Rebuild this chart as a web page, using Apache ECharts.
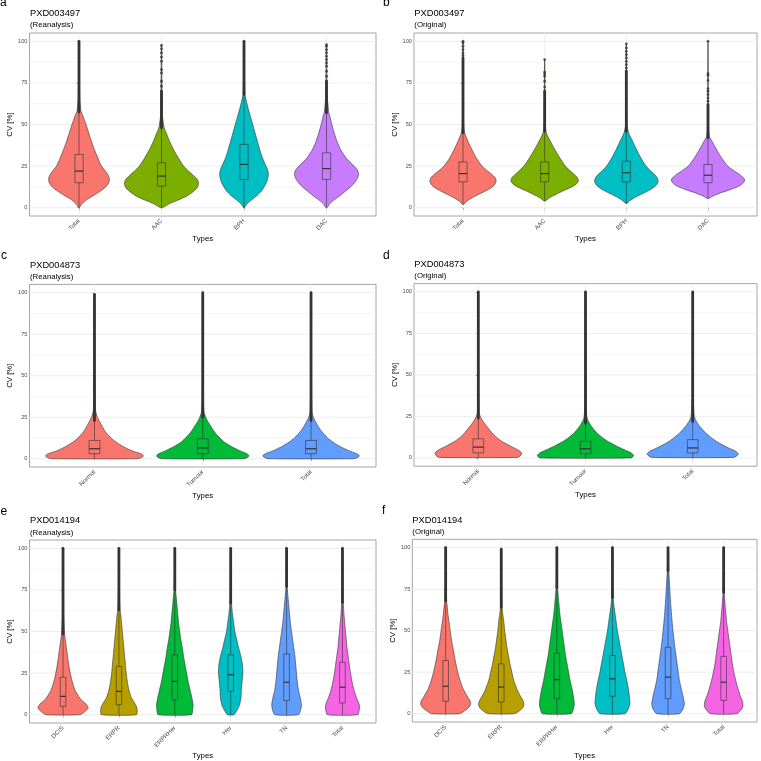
<!DOCTYPE html>
<html><head><meta charset="utf-8">
<script src="https://cdn.jsdelivr.net/npm/echarts@6/dist/echarts.min.js"></script>
<style>html,body{margin:0;padding:0;background:#fff}#c{width:761px;height:761px}</style>
</head><body><div id="c"></div>
<script>
// ---------- DATA ----------
const yTicks = [0, 25, 50, 75, 100];

const typesAB = ['Total', 'AAC', 'BPH', 'DAC'];
const typesCD = ['Normal', 'Tumour', 'Total'];
const typesEF = ['DCIS', 'ERPR', 'ERPRHer', 'Her', 'TN', 'Total'];

const colors4 = ['#F8766D', '#7CAE00', '#00BFC4', '#C77CFF'];
const colors3 = ['#F8766D', '#00BA38', '#619CFF'];
const colors6 = ['#F8766D', '#B79F00', '#00BA38', '#00BFC4', '#619CFF', '#F564E3'];

// violin profiles: [CV, relative half-width]
const violinA = [
  [[0,1],[2.5,10],[5,24],[7.5,45],[10,64],[12.5,80],[15,89],[17.5,91],[20,86],[22.5,77],[25,67],[30,56],[35,46],[40,37],[45,29],[50,21],[55,12],[58,6],[65,2.5],[80,1.2],[100,0.6]],
  [[0,3],[2.5,25],[5,55],[7.5,80],[10,97],[12.5,108],[15,111],[17.5,105],[20,92],[22.5,78],[25,66],[30,50],[35,36],[40,24],[45,14],[48,8],[55,3],[70,1.5],[98,0.6]],
  [[0,1],[2.5,10],[5,25],[7.5,40],[10,52],[12.5,60],[15,67],[17.5,71],[20,73],[22.5,71],[25,66],[30,55],[35,47],[40,40],[45,33],[50,26],[55,19],[60,12],[65,6],[68,3],[80,1.2],[100,0.6]],
  [[0,2],[2.5,10],[5,25],[7.5,42],[10,57],[12.5,72],[15,84],[17.5,92],[20,96],[22.5,93],[25,82],[30,58],[35,42],[40,31],[45,23],[50,16],[55,10],[57,7],[65,3],[75,1.5],[98,0.6]]
];
// box: [lower whisker, Q1, median, Q3, upper whisker]
const boxA = [[0,15,22,32,57.5],[0,13,19,27,48],[0,17,26,38,68],[0.5,17,23.5,33,57]];
const denseA = [[57.5,100],[48,70],[68,100],[57,76]];
const pointsA = [[],[73,76,81,83,88,90.5,93,95.5,97.5],[],[79,82,85,87,89,91,93,95,97,98]];

const violinB = [
  [[2,2],[4,12],[6,28],[8,48],[10,68],[12,86],[14,97],[16,101],[18,98],[20,88],[22.5,72],[25,58],[30,40],[35,27],[40,15],[45,5],[50,2],[70,1],[100,0.5]],
  [[4,2],[6,15],[8,35],[10,55],[12,78],[14,95],[16,103],[18,100],[20,90],[22.5,76],[25,63],[30,46],[35,31],[40,17],[45,5],[50,2],[70,1],[89,0.5]],
  [[2.5,2],[4,10],[6,25],[8,45],[10,65],[12,82],[14,93],[16,97],[18,94],[20,86],[22.5,72],[25,60],[30,44],[35,31],[40,19],[45,7],[50,2],[70,1],[98.5,0.5]],
  [[5.5,2],[7,15],[9,40],[11,70],[13,95],[15,108],[16.5,112],[18,108],[20,96],[22.5,77],[25,60],[30,41],[35,26],[40,12],[43,4],[50,1.5],[70,1],[100,0.5]]
];
const boxB = [[2,15.5,20.5,27.5,45],[4,15.5,20.5,27.5,46],[2.5,15.5,21,28,46],[5.5,15,19.5,26,42]];
const denseB = [[45,90],[46,70],[46,82],[42,62]];
const pointsB = [[91.5,93,95,97,99,100],[72.5,76,79,80.5,81.5,89],[84,86,88,90,92,94,96,98.5],[64,66,68,70,71.5,76.5,79.5,80.5,100]];

const violinC = [
  [[0,130],[1,145],[2,147],[3,140],[5,110],[7.5,85],[10,65],[12.5,50],[15,38],[17.5,29],[20,22],[22.5,15],[25,9],[27.5,5],[30,3],[50,1.5],[99,0.7]],
  [[0,125],[1,137],[2,139],[3,133],[5,110],[7.5,85],[10,65],[12.5,52],[15,40],[17.5,31],[20,23],[22.5,15],[25,9],[28,4],[35,2],[60,1.2],[100,0.7]],
  [[0,130],[1,143],[2,145],[3,138],[5,112],[7.5,86],[10,66],[12.5,50],[15,38],[17.5,28],[20,20],[22.5,13],[25,7],[28,3],[40,1.5],[100,0.7]]
];
const boxC = [[0,3,6,11,23],[0,3,6.5,12,25],[0,3,6,11,23]];
const denseC = [[23,99],[25,100],[23,100]];
const pointsC = [[],[],[]];

const violinD = [
  [[0.3,120],[1.5,130],[3,133],[5,120],[7.5,95],[10,72],[12.5,55],[15,42],[17.5,32],[20,22],[22.5,13],[25,6],[27,3],[40,1.5],[100,0.7]],
  [[0,140],[1.5,148],[3,140],[5,118],[7.5,92],[10,68],[12.5,50],[15,35],[17.5,24],[20,15],[22.5,8],[25,4],[35,2],[100,0.7]],
  [[0.3,125],[1.5,137],[2.5,140],[4,132],[6,110],[8,90],[10,72],[12.5,55],[15,40],[17.5,28],[20,18],[22.5,10],[25,5],[35,2],[100,0.7]]
];
const boxD = [[0.3,3,6.5,11.5,24],[0,2.5,5.5,10,21],[0.3,3,6,11,22]];
const denseD = [[24,100],[21,100],[22,100]];
const pointsD = [[],[],[]];

const violinE = [
  [[0,45],[2,58],[4,66],[6,62],[8,52],[10,44],[12.5,37],[15,31],[20,24],[25,19],[30,15],[35,12],[40,9],[45,6],[48.5,4],[60,1.5],[100,0.6]],
  [[0,46],[3,48],[5,46],[7.5,40],[10,33],[15,26],[20,22],[25,19],[30,17],[35,15],[40,13],[45,11],[50,9],[55,7],[60,5],[63,3],[75,1.2],[100,0.6]],
  [[0,44],[3,47],[6,48],[10,45],[15,40],[20,35],[25,31],[30,27],[35,23],[40,20],[45,16],[50,13],[55,10],[60,8],[65,6],[70,4],[75,2],[85,1],[100,0.6]],
  [[0,9],[2,15],[5,22],[7.5,25],[10,27],[15,28],[20,30],[25,32],[30,31],[35,27],[40,21],[45,16],[50,11],[55,8],[60,5],[67,2],[80,1],[100,0.6]],
  [[0,31],[3,37],[6,39],[10,36],[15,31],[20,28],[25,26],[30,24],[35,22],[40,19],[45,16],[50,13],[55,10],[60,8],[65,6],[70,4],[77,1.5],[90,0.8],[100,0.6]],
  [[0,40],[3,44],[5,45],[7.5,42],[10,37],[15,30],[20,25],[25,21],[30,18],[35,15],[40,12],[45,10],[50,8],[55,6],[60,4],[67.5,2],[80,1],[100,0.6]]
];
const boxE = [[0,5,11,22.5,48.5],[0,6,14,29,63],[0,9,20,36,75],[0,14,24,36,67],[0,8.5,19.5,36.5,77],[0,7,16.5,31.5,67.5]];
const denseE = [[48.5,100],[63,100],[75,100],[67,100],[77,100],[67.5,100]];
const pointsE = [[],[],[],[],[],[]];

const violinF = [
  [[0,37],[2,52],[4,62],[6,66],[8,64],[10,58],[12.5,52],[15,46],[20,38],[25,32],[30,27],[35,23],[40,19],[45,15],[50,12],[55,9],[60,6],[65,4],[68,2.5],[80,1],[100,0.6]],
  [[0,35],[2,50],[4,58],[6,60],[8,57],[10,52],[12.5,46],[15,41],[20,33],[25,28],[30,23],[35,19],[40,15],[45,12],[50,9],[55,7],[60,4],[64,2],[80,1],[99,0.6]],
  [[0,38],[3,44],[6,46],[10,44],[15,40],[20,35],[25,31],[30,27],[35,23],[40,20],[45,17],[50,14],[55,11],[60,8],[65,6],[70,4],[76,2],[88,1],[100,0.6]],
  [[0,33],[3,42],[6,46],[10,45],[15,42],[20,38],[25,33],[30,29],[35,25],[40,21],[45,17],[50,13],[55,10],[60,7],[65,4],[70,2],[85,1],[100,0.6]],
  [[0,30],[3,40],[6,43],[10,40],[15,35],[20,30],[25,27],[30,24],[35,21],[40,18],[50,13],[60,9],[70,6],[80,3.5],[86,2],[95,1],[100,0.6]],
  [[0,35],[3,48],[5,51],[8,49],[10,45],[15,38],[20,32],[25,27],[30,23],[35,20],[40,17],[45,14],[50,11],[55,8],[60,6],[65,4],[70,2.5],[73,1.5],[85,0.8],[100,0.6]]
];
const boxF = [[0,7.5,16.5,32,68],[0,7,16,30,64],[0,9,20.5,36.5,76],[0,10.5,21,35,70],[0,9,22,40,86],[0,8,19,34.5,73]];
const denseF = [[68,100],[64,99],[76,100],[70,100],[86,100],[73,100]];
const pointsF = [[],[],[],[],[],[]];

// ---------- LAYOUT ----------
const panels = [
  {letter:'a', title:'PXD003497', sub:'(Reanalysis)', types:typesAB, colors:colors4, violins:violinA, boxes:boxA, dense:denseA, points:pointsA,
   grid:{left:29.5, top:33, width:346.5, height:183}, lx:0, ly:2.5, tx:30, ty:13.3, sy:25, nameGap:19},
  {letter:'b', title:'PXD003497', sub:'(Original)', types:typesAB, colors:colors4, violins:violinB, boxes:boxB, dense:denseB, points:pointsB,
   grid:{left:414, top:33, width:343, height:183}, lx:383, ly:2.5, tx:414.3, ty:13.3, sy:25, nameGap:19},
  {letter:'c', title:'PXD004873', sub:'(Reanalysis)', types:typesCD, colors:colors3, violins:violinC, boxes:boxC, dense:denseC, points:pointsC,
   grid:{left:29.5, top:284.4, width:346.5, height:182.6}, lx:1, ly:255.8, tx:30, ty:265.3, sy:276.7, nameGap:24.5},
  {letter:'d', title:'PXD004873', sub:'(Original)', types:typesCD, colors:colors3, violins:violinD, boxes:boxD, dense:denseD, points:pointsD,
   grid:{left:414, top:283.6, width:343, height:182.6}, lx:383, ly:255.8, tx:414.3, ty:264.7, sy:276.3, nameGap:24.5},
  {letter:'e', title:'PXD014194', sub:'(Reanalysis)', types:typesEF, colors:colors6, violins:violinE, boxes:boxE, dense:denseE, points:pointsE,
   grid:{left:29.5, top:540, width:346.5, height:183}, lx:0.5, ly:511.5, tx:30, ty:520.3, sy:532.5, nameGap:29},
  {letter:'f', title:'PXD014194', sub:'(Original)', types:typesEF, colors:colors6, violins:violinF, boxes:boxF, dense:denseF, points:pointsF,
   grid:{left:412.3, top:539.3, width:344.7, height:183}, lx:382, ly:510.8, tx:412.3, ty:520.3, sy:532, nameGap:30}
];

const FONT = '"Liberation Sans", Arial, sans-serif';
const DARK = '#333333';
const option = {animation:false, backgroundColor:'#fff', grid:[], xAxis:[], yAxis:[], series:[], graphic:[]};

function txt(x, y, text, size) {
  return {type:'text', x:x, y:y, silent:true,
    style:{text:text, fontSize:size, fontFamily:'Liberation Sans, Arial, sans-serif', fill:'#000',
      textAlign:'left', textVerticalAlign:'middle', align:'left', verticalAlign:'middle'}};
}

panels.forEach((p, k) => {
  const n = p.types.length;
  const xmin = -0.6, xmax = n - 0.4, ymin = -5, ymax = 105;
  const cats = p.types.map((_, i) => i);
  let maxW = 0;
  p.violins.forEach(v => v.forEach(pt => { if (pt[1] > maxW) maxW = pt[1]; }));
  const wScale = 0.45 / maxW;

  option.grid.push(Object.assign({show:true, borderColor:'#8f8f8f', borderWidth:0.8, containLabel:false}, p.grid));
  option.xAxis.push({gridIndex:k, type:'value', min:xmin, max:xmax,
    axisLine:{show:false}, splitLine:{show:false},
    axisTick:{show:true, customValues:cats, length:2.5, lineStyle:{color:DARK, width:0.6}},
    axisLabel:{customValues:cats, formatter:(v) => p.types[Math.round(v)], rotate:45, fontSize:6.2, color:'#4d4d4d', margin:4, fontFamily:FONT},
    name:'Types', nameLocation:'middle', nameGap:p.nameGap, nameTextStyle:{fontSize:7.8, color:'#000', fontFamily:FONT}});
  option.yAxis.push({gridIndex:k, type:'value', min:ymin, max:ymax,
    axisLine:{show:false}, splitLine:{show:false},
    axisTick:{show:true, customValues:yTicks, length:2.5, lineStyle:{color:DARK, width:0.6}},
    axisLabel:{customValues:yTicks, fontSize:5.7, color:'#4d4d4d', margin:2, fontFamily:FONT},
    name:'CV [%]', nameLocation:'middle', nameGap:15, nameTextStyle:{fontSize:7.8, color:'#000', fontFamily:FONT}});

  // grid lines (major / minor horizontal, vertical at categories)
  const gl = [];
  yTicks.forEach(v => gl.push([v, 0]));
  for (let i = 0; i < yTicks.length - 1; i++) gl.push([(yTicks[i] + yTicks[i+1]) / 2, 1]);
  cats.forEach(c => gl.push([c, 2]));
  option.series.push({type:'custom', xAxisIndex:k, yAxisIndex:k, z:1, silent:true, data:gl,
    renderItem:(params, api) => {
      const v = api.value(0), kind = api.value(1);
      let a, b;
      if (kind < 2) { a = api.coord([xmin, v]); b = api.coord([xmax, v]); }
      else { a = api.coord([v, ymin]); b = api.coord([v, ymax]); }
      return {type:'line', shape:{x1:a[0], y1:a[1], x2:b[0], y2:b[1]},
        style:{stroke:'#ebebeb', lineWidth: kind === 1 ? 0.5 : 0.9}};
    }});

  // violins
  option.series.push({type:'custom', xAxisIndex:k, yAxisIndex:k, z:2, silent:true,
    data:cats.map(i => [i, 0]),
    renderItem:(params, api) => {
      const i = params.dataIndex;
      const prof = p.violins[i];
      const right = prof.map(([cv, w]) => api.coord([i + w * wScale, cv]));
      const left = prof.slice().reverse().map(([cv, w]) => api.coord([i - w * wScale, cv]));
      return {type:'polygon', shape:{points:right.concat(left), smooth:0.2},
        style:{fill:p.colors[i], stroke:DARK, lineWidth:0.6}};
    }});

  // boxplots
  option.series.push({type:'custom', xAxisIndex:k, yAxisIndex:k, z:3, silent:true,
    data:cats.map(i => [i, 0]),
    renderItem:(params, api) => {
      const i = params.dataIndex;
      const [lo, q1, med, q3, hi] = p.boxes[i];
      const pLo = api.coord([i, lo]), pQ1 = api.coord([i, q1]), pQ3 = api.coord([i, q3]), pHi = api.coord([i, hi]);
      const l = api.coord([i - 0.05, med])[0], r = api.coord([i + 0.05, med])[0], ym = api.coord([i, med])[1];
      const st = {stroke:DARK, lineWidth:0.6};
      return {type:'group', children:[
        {type:'line', shape:{x1:pLo[0], y1:pLo[1], x2:pQ1[0], y2:pQ1[1]}, style:st},
        {type:'line', shape:{x1:pQ3[0], y1:pQ3[1], x2:pHi[0], y2:pHi[1]}, style:st},
        {type:'rect', shape:{x:l, y:pQ3[1], width:r - l, height:pQ1[1] - pQ3[1]}, style:{fill:'none', stroke:DARK, lineWidth:0.6}},
        {type:'line', shape:{x1:l, y1:ym, x2:r, y2:ym}, style:{stroke:DARK, lineWidth:1.2}}
      ]};
    }});

  // dense outlier runs
  option.series.push({type:'custom', xAxisIndex:k, yAxisIndex:k, z:4, silent:true,
    data:cats.map(i => [i, 0]),
    renderItem:(params, api) => {
      const i = params.dataIndex;
      const d = p.dense[i];
      const a = api.coord([i, d[0]]), b = api.coord([i, d[1]]);
      return {type:'line', shape:{x1:a[0], y1:a[1], x2:b[0], y2:b[1]},
        style:{stroke:DARK, lineWidth:2.8, lineCap:'round'}};
    }});

  // sparse outliers
  const pts = [];
  p.points.forEach((arr, i) => arr.forEach(v => pts.push([i, v])));
  option.series.push({type:'scatter', xAxisIndex:k, yAxisIndex:k, z:5, silent:true,
    data:pts, symbol:'circle', symbolSize:2.8, itemStyle:{color:DARK}});

  option.graphic.push(txt(p.lx, p.ly, p.letter, 12));
  option.graphic.push(txt(p.tx, p.ty, p.title, 9.3));
  option.graphic.push(txt(p.tx, p.sy, p.sub, 7.8));
});

const chart = echarts.init(document.getElementById('c'), null, {renderer:'canvas'});
chart.setOption(option);
</script>
</body></html>
